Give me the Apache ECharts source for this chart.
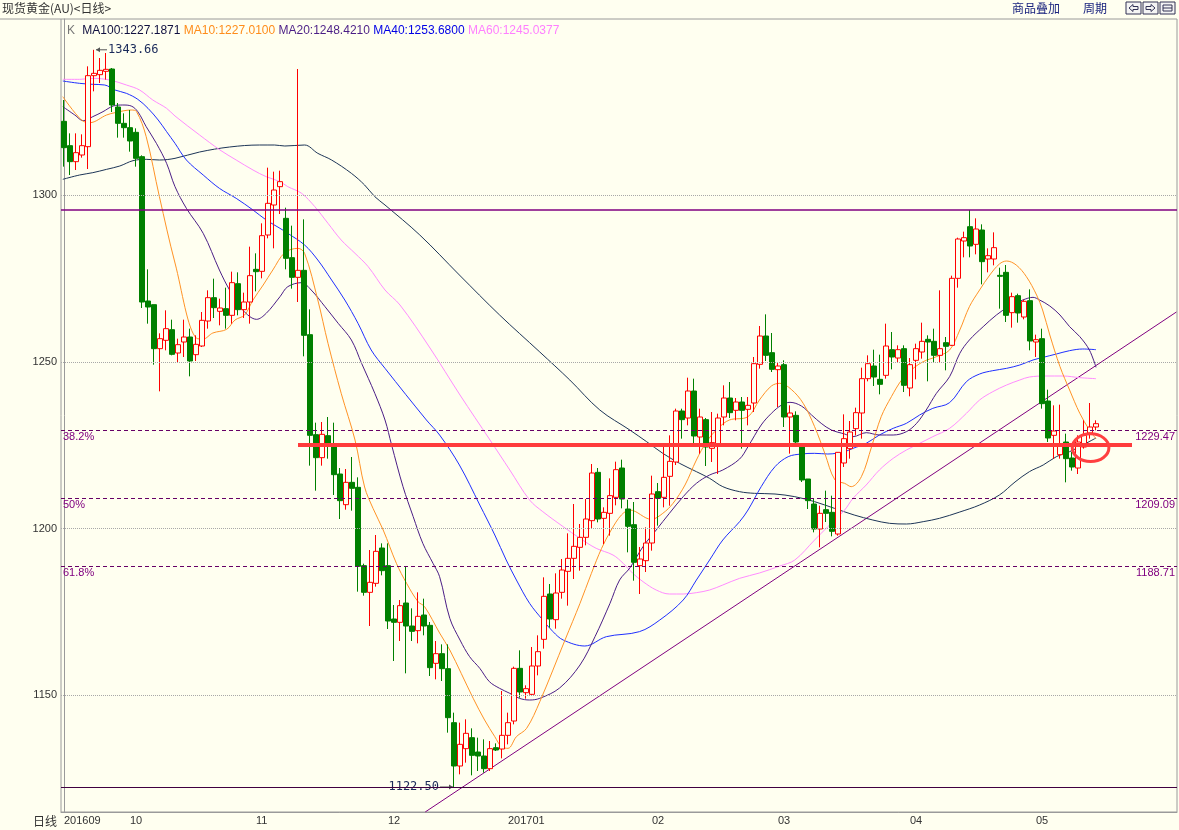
<!DOCTYPE html>
<html><head><meta charset="utf-8">
<script src="https://cdn.jsdelivr.net/npm/echarts@6/dist/echarts.min.js"></script>
<style>html,body{margin:0;padding:0;background:#FFFFF0;}#c{width:1179px;height:830px;}</style>
</head><body><div id="c"></div>
<script>
// ---- data ----
const opens  = [1322.2,1314.9,1310.1,1312.1,1314.6,1335.9,1336.2,1337.2,1337.9,1326.5,1321.6,1320.3,1318.9,1311.6,1268.3,1267.2,1254.0,1256.5,1259.7,1252.7,1256.0,1257.5,1252.2,1254.8,1262.3,1269.3,1265.2,1266.0,1264.0,1273.5,1265.7,1268.0,1277.8,1277.2,1288.1,1297.1,1302.6,1293.1,1281.3,1275.4,1277.5,1258.2,1228.2,1221.3,1227.9,1225.0,1216.4,1207.2,1213.9,1212.4,1188.9,1180.9,1183.6,1194.2,1188.9,1172.9,1171.9,1177.7,1170.8,1169.4,1174.1,1171.0,1159.6,1162.5,1158.0,1141.8,1128.8,1134.0,1137.3,1133.0,1131.8,1128.0,1134.3,1133.9,1138.0,1142.3,1158.1,1150.8,1150.3,1158.8,1166.8,1180.4,1172.7,1180.9,1187.2,1191.1,1194.4,1197.4,1202.4,1216.9,1203.1,1204.6,1209.4,1218.2,1205.9,1201.2,1188.9,1190.4,1195.7,1211.1,1209.4,1215.7,1220.0,1235.3,1233.2,1241.3,1227.5,1232.7,1224.1,1225.0,1233.5,1239.2,1235.5,1238.0,1235.8,1237.7,1249.3,1257.8,1252.8,1247.7,1249.2,1233.5,1234.0,1225.0,1214.9,1207.4,1199.9,1205.7,1204.9,1198.4,1219.7,1224.0,1230.0,1234.7,1245.0,1248.8,1244.8,1246.0,1253.7,1251.2,1254.0,1242.2,1250.5,1253.0,1256.8,1256.2,1252.0,1255.8,1255.0,1275.1,1286.3,1290.6,1285.3,1289.6,1280.9,1280.9,1276.0,1276.9,1264.8,1269.9,1263.5,1268.4,1256.0,1257.0,1238.3,1228.0,1222.2,1226.0,1221.2,1218.2,1224.5,1228.7,1230.5];
const closes = [1314.3,1310.1,1312.8,1314.9,1335.9,1336.6,1337.5,1337.8,1327.1,1321.6,1320.3,1316.3,1311.1,1268.0,1266.5,1254.0,1257.0,1260.0,1252.3,1255.2,1257.5,1250.3,1255.3,1262.5,1269.3,1266.3,1266.2,1264.0,1273.8,1265.7,1268.0,1275.9,1277.1,1287.9,1297.6,1301.6,1304.1,1281.1,1275.4,1277.5,1258.0,1228.0,1221.3,1228.3,1224.8,1216.2,1208.4,1213.9,1212.1,1188.7,1180.9,1183.9,1193.2,1187.4,1172.3,1171.9,1176.9,1170.8,1169.2,1173.7,1170.8,1158.3,1162.5,1158.0,1143.3,1128.8,1135.3,1138.6,1132.0,1131.8,1128.0,1134.0,1133.6,1138.0,1141.8,1158.1,1151.0,1152.0,1158.8,1163.1,1179.7,1172.9,1180.7,1187.6,1191.1,1194.7,1197.4,1202.9,1216.7,1202.9,1204.9,1209.9,1217.7,1208.9,1200.7,1189.9,1190.9,1195.7,1210.4,1209.1,1215.4,1220.2,1235.3,1232.7,1241.3,1227.8,1233.5,1224.5,1225.8,1233.2,1239.2,1234.8,1238.0,1235.5,1237.0,1249.5,1257.8,1252.0,1247.8,1248.8,1233.5,1234.7,1226.0,1214.6,1208.4,1199.9,1204.6,1204.6,1199.2,1222.9,1227.0,1229.0,1234.8,1245.0,1249.5,1245.5,1243.3,1254.8,1251.5,1253.7,1243.0,1249.2,1254.0,1256.2,1256.0,1252.0,1254.0,1254.7,1275.1,1286.9,1287.3,1284.8,1289.9,1280.1,1281.9,1284.3,1275.7,1264.0,1269.6,1264.7,1268.2,1256.3,1256.7,1237.5,1227.2,1229.3,1225.2,1221.0,1218.5,1226.0,1228.0,1230.5,1231.5];
const highs  = [1328.6,1318.6,1318.6,1318.3,1338.7,1343.66,1341.2,1342.7,1338.2,1327.7,1324.6,1325.6,1320.1,1312.0,1277.8,1267.2,1258.6,1265.5,1262.7,1257.0,1262.7,1260.0,1258.0,1265.0,1271.5,1275.0,1269.0,1272.3,1277.1,1276.9,1270.8,1284.6,1282.6,1291.6,1308.3,1307.1,1307.4,1296.3,1290.9,1337.9,1292.8,1265.8,1231.8,1232.0,1233.5,1231.8,1218.2,1217.9,1221.5,1215.4,1189.5,1193.6,1198.1,1195.6,1195.6,1177.1,1178.6,1188.6,1176.1,1180.9,1179.0,1172.0,1166.3,1165.3,1165.3,1144.8,1141.8,1142.8,1140.1,1137.3,1136.8,1136.3,1135.6,1151.3,1144.8,1158.6,1163.5,1153.0,1164.5,1168.0,1185.4,1183.4,1186.6,1190.9,1198.6,1207.4,1201.4,1208.9,1219.4,1218.2,1206.4,1215.1,1220.1,1220.7,1208.7,1208.0,1194.5,1200.4,1215.9,1213.7,1224.9,1228.0,1236.0,1236.0,1245.3,1245.0,1236.0,1233.2,1235.0,1234.5,1243.0,1244.0,1239.2,1239.5,1239.5,1251.5,1260.8,1264.3,1258.7,1250.0,1250.5,1237.0,1235.2,1225.5,1214.9,1208.9,1206.9,1211.4,1209.9,1223.0,1234.3,1232.3,1236.3,1248.3,1252.0,1253.7,1252.2,1261.5,1259.0,1255.0,1255.0,1251.2,1255.5,1261.8,1258.0,1260.0,1271.5,1257.5,1275.9,1287.3,1289.1,1295.6,1293.1,1291.3,1284.1,1288.9,1278.3,1279.1,1270.8,1270.5,1268.7,1271.8,1258.2,1260.0,1241.7,1237.0,1237.2,1228.5,1223.0,1228.0,1232.5,1237.7,1232.5];
const lows   = [1308.6,1306.1,1307.6,1311.3,1307.9,1331.2,1333.7,1334.7,1325.0,1317.3,1317.3,1313.1,1308.6,1266.2,1261.5,1249.2,1241.2,1253.5,1252.0,1250.0,1251.5,1245.7,1250.3,1254.5,1260.0,1263.2,1261.0,1260.0,1261.5,1264.0,1263.2,1261.5,1271.2,1275.1,1287.1,1284.1,1294.4,1277.8,1272.0,1268.0,1251.7,1218.9,1211.4,1218.9,1221.0,1210.1,1202.9,1205.7,1205.4,1181.1,1179.9,1170.8,1182.6,1186.0,1169.9,1160.3,1166.3,1156.6,1166.3,1165.6,1168.0,1155.8,1154.8,1154.3,1138.8,1122.5,1126.3,1129.8,1126.0,1127.3,1126.8,1127.3,1133.3,1131.1,1135.3,1141.3,1149.3,1149.0,1149.8,1156.0,1164.0,1170.3,1170.0,1179.0,1176.9,1184.9,1187.4,1195.0,1200.0,1201.9,1195.4,1197.9,1207.0,1206.1,1192.9,1184.4,1180.4,1187.0,1193.4,1200.9,1206.4,1206.9,1219.1,1227.0,1231.0,1224.8,1222.5,1218.8,1220.0,1216.4,1231.0,1233.2,1232.5,1224.0,1231.0,1235.0,1248.0,1250.3,1247.0,1236.5,1230.5,1222.5,1225.0,1214.0,1205.9,1198.9,1194.4,1202.0,1197.7,1197.9,1218.5,1221.0,1228.0,1227.0,1244.2,1242.8,1240.3,1245.0,1247.8,1250.0,1241.0,1239.7,1244.8,1251.0,1244.2,1250.0,1250.0,1247.5,1254.8,1272.3,1281.4,1281.4,1282.3,1273.3,1276.9,1279.0,1266.0,1262.0,1260.3,1261.8,1262.8,1253.5,1251.5,1236.0,1226.0,1221.0,1221.0,1213.9,1217.4,1216.4,1224.0,1227.0,1229.5];

// moving averages: [bar position, price]
const ma10 = [[-0.2,1329.6],[2.9,1322.6],[4.3,1321.8],[7.1,1324.1],[8.5,1324.8],[11.2,1325.6],[12.1,1325.1],[13.7,1317.6],[15.9,1299.6],[18.5,1279.7],[22.1,1257.1],[23.2,1256.9],[24.8,1258.7],[27.1,1259.8],[28.5,1262.6],[30.1,1264.1],[31.5,1268.6],[33.2,1273.1],[34.8,1277.6],[36.8,1282.8],[39.0,1284.1],[40.1,1282.6],[42.3,1268.6],[44.0,1255.6],[46.2,1240.6],[48.5,1226.6],[50.1,1212.5],[51.5,1206.1],[53.2,1199.6],[55.4,1189.6],[57.1,1183.6],[59.0,1178.1],[60.1,1176.6],[62.6,1168.7],[64.3,1163.6],[66.2,1156.6],[68.2,1149.1],[70.1,1142.6],[71.8,1137.6],[72.9,1134.6],[74.0,1134.1],[75.4,1137.6],[77.1,1140.1],[79.3,1148.1],[83.5,1166.6],[86.0,1177.6],[87.9,1186.6],[89.6,1194.1],[91.2,1199.6],[92.9,1204.1],[94.3,1205.6],[97.9,1202.8],[99.8,1204.6],[101.5,1207.6],[103.5,1213.1],[105.4,1220.6],[107.1,1226.1],[109.0,1230.1],[110.9,1232.6],[114.0,1233.6],[115.9,1238.6],[117.9,1242.8],[119.3,1243.6],[121.2,1241.8],[123.2,1237.6],[125.1,1230.6],[126.8,1222.6],[128.5,1214.6],[130.1,1213.6],[131.2,1212.6],[132.9,1215.6],[134.6,1224.6],[136.2,1233.6],[137.9,1239.6],[139.6,1244.6],[141.2,1247.6],[143.2,1250.1],[145.4,1251.6],[147.6,1253.6],[149.3,1259.6],[150.9,1266.6],[152.6,1271.6],[154.3,1276.1],[155.9,1279.4],[157.1,1280.3],[158.7,1279.1],[160.4,1275.6],[162.1,1270.1],[163.1,1265.6],[164.3,1258.1],[166.0,1248.6],[167.6,1241.6],[169.3,1234.6],[170.9,1229.6],[172.0,1227.0]];
const ma20 = [[-0.2,1326.6],[1.8,1324.1],[3.2,1322.4],[4.8,1323.6],[6.5,1325.1],[8.2,1326.8],[9.8,1327.1],[11.2,1326.8],[12.3,1325.1],[13.7,1320.6],[15.4,1315.6],[17.1,1309.6],[18.5,1302.6],[20.4,1296.1],[23.2,1288.6],[25.9,1277.6],[27.6,1271.6],[29.8,1265.6],[32.1,1262.8],[33.7,1264.6],[36.0,1269.6],[37.3,1272.6],[39.6,1273.8],[41.2,1271.6],[43.5,1266.6],[45.7,1261.6],[47.9,1256.6],[49.6,1249.6],[51.8,1240.6],[53.5,1232.6],[54.6,1225.1],[56.5,1212.6],[58.2,1203.6],[59.8,1195.6],[61.5,1189.6],[62.6,1185.6],[64.3,1173.1],[66.0,1166.6],[67.6,1161.6],[69.3,1158.1],[70.9,1154.1],[72.6,1152.1],[74.3,1150.6],[75.9,1149.1],[77.6,1148.6],[79.3,1149.1],[82.6,1152.2],[86.0,1159.1],[88.5,1167.6],[91.0,1177.6],[92.6,1184.6],[94.3,1188.2],[96.5,1194.6],[98.7,1199.6],[100.9,1204.6],[103.2,1209.6],[105.4,1213.6],[107.6,1216.1],[109.8,1217.6],[112.6,1220.9],[114.0,1224.6],[116.2,1231.1],[117.9,1234.6],[119.6,1237.1],[121.0,1237.9],[122.9,1236.8],[124.6,1234.1],[126.2,1231.6],[127.9,1229.6],[130.1,1228.4],[131.5,1227.6],[133.7,1228.8],[135.9,1228.1],[138.2,1228.1],[140.4,1229.1],[142.1,1231.6],[143.7,1235.6],[145.4,1240.6],[147.6,1245.6],[149.3,1252.6],[150.9,1256.6],[153.2,1260.6],[155.4,1264.1],[157.6,1266.8],[159.8,1268.6],[161.5,1269.4],[162.6,1268.6],[164.3,1266.8],[166.0,1264.1],[167.6,1260.6],[169.3,1257.6],[170.9,1253.6],[172.0,1248.4]];
const ma40 = [[-0.2,1334.3],[2.6,1333.6],[4.8,1333.3],[6.8,1333.1],[8.5,1331.6],[10.4,1330.6],[12.3,1328.8],[14.0,1326.1],[15.7,1322.6],[17.1,1319.1],[18.5,1315.6],[20.4,1310.6],[23.2,1306.1],[25.9,1302.1],[28.7,1299.1],[31.5,1295.6],[33.7,1292.6],[36.0,1290.1],[37.3,1288.6],[40.1,1285.1],[42.3,1280.6],[44.6,1274.6],[46.8,1268.6],[49.0,1261.6],[51.2,1253.6],[53.5,1248.1],[60.4,1232.6],[62.6,1228.1],[65.9,1219.1],[69.3,1207.1],[71.8,1198.1],[73.7,1190.6],[75.4,1184.6],[77.6,1177.6],[79.8,1172.6],[81.5,1169.1],[83.2,1166.6],[86.8,1164.8],[90.4,1167.6],[95.9,1169.1],[99.3,1172.6],[103.2,1178.6],[105.4,1184.6],[107.6,1190.6],[109.8,1196.6],[112.6,1202.1],[114.0,1205.6],[116.2,1212.6],[118.5,1218.6],[120.7,1221.6],[122.9,1222.4],[125.1,1222.6],[127.3,1222.4],[130.1,1223.1],[131.5,1224.1],[133.7,1225.6],[135.9,1228.1],[138.2,1230.1],[140.4,1231.6],[142.6,1234.1],[144.8,1236.1],[147.6,1237.8],[150.4,1244.1],[152.6,1246.4],[154.8,1247.4],[157.1,1248.1],[159.3,1249.1],[161.5,1250.6],[163.2,1251.4],[165.4,1252.4],[167.6,1253.4],[169.8,1253.9],[172.0,1253.7]];
const ma60 = [[-0.2,1334.8],[2.6,1334.8],[4.8,1335.1],[7.6,1334.6],[10.4,1333.1],[12.6,1331.6],[14.8,1328.6],[17.1,1326.1],[18.5,1323.8],[22.6,1318.1],[26.0,1313.6],[28.7,1310.6],[31.5,1307.6],[33.7,1305.6],[36.0,1304.1],[37.3,1302.6],[39.6,1300.6],[41.8,1296.6],[44.0,1291.6],[46.2,1286.6],[48.5,1282.6],[50.7,1278.6],[53.5,1271.6],[56.0,1267.1],[61.0,1254.2],[66.0,1240.1],[71.0,1226.6],[74.3,1217.6],[77.6,1208.6],[79.8,1205.1],[83.2,1200.6],[86.0,1197.1],[88.7,1194.1],[91.5,1192.1],[93.2,1189.6],[94.8,1186.6],[96.5,1184.1],[98.7,1181.6],[100.9,1180.4],[103.2,1180.4],[105.4,1180.8],[107.6,1181.6],[109.8,1183.1],[112.6,1185.1],[115.9,1186.7],[119.3,1188.8],[121.8,1190.6],[125.1,1196.6],[127.3,1200.6],[130.1,1205.6],[131.5,1209.1],[133.7,1213.1],[135.9,1217.6],[138.2,1221.1],[140.4,1223.6],[142.6,1225.6],[144.8,1227.6],[147.6,1230.1],[150.4,1234.6],[152.6,1238.6],[154.8,1241.1],[157.1,1243.1],[159.3,1244.6],[160.9,1245.5],[163.7,1245.8],[166.5,1245.8],[169.3,1245.3],[172.0,1245.0]];
const ma100 = [[-0.2,1304.8],[2.6,1306.1],[4.8,1306.8],[7.1,1307.8],[9.3,1308.8],[11.5,1310.4],[13.7,1310.8],[15.9,1310.6],[18.5,1311.1],[22.6,1313.0],[27.6,1314.5],[32.6,1315.1],[35.1,1315.1],[36.8,1314.8],[40.1,1315.1],[42.3,1312.6],[44.6,1310.6],[47.9,1306.6],[50.1,1303.1],[51.8,1299.6],[53.5,1297.1],[59.3,1288.1],[65.9,1276.1],[72.6,1264.1],[79.3,1253.0],[84.3,1244.6],[89.3,1235.6],[94.3,1229.6],[97.1,1226.1],[99.8,1222.6],[102.6,1219.6],[105.4,1217.1],[107.6,1215.1],[109.8,1212.6],[112.6,1211.1],[115.1,1210.6],[118.5,1210.4],[121.8,1209.6],[125.1,1208.1],[128.4,1206.1],[131.7,1204.1],[134.8,1202.6],[137.6,1201.6],[140.4,1201.4],[143.2,1202.1],[145.9,1203.1],[149.3,1205.0],[152.6,1207.1],[155.9,1210.1],[158.5,1214.0],[160.9,1217.1],[163.2,1219.1],[165.4,1221.6],[167.6,1223.1],[169.8,1225.1],[172.0,1227.2]];

const maNames  = ['MA100','MA10','MA20','MA40','MA60'];
const maValues = ['1227.1871','1227.0100','1248.4210','1253.6800','1245.0377'];

const monthStart = [0, 11, 32, 54, 74, 98, 119, 141, 162];
const monthText  = ['201609','10','11','12','201701','02','03','04','05'];
const yTicks = [1150, 1200, 1250, 1300];

const fibHigh = 1295.6, fibLow = 1122.5;
const fibLevels = [1229.47, 1209.09, 1188.71];
const fibPct = ['38.2%', '50%', '61.8%'];
const maxPoint = [5, 1343.66];
const minPoint = [65, 1122.50];
const redLine = [[39, 1225.1], [178, 1225.1]];
const trendLine = [[60.2, 1115.0], [185.4, 1265.0]];
const circleMark = {center: [171.1, 1224.3], halfW: 3.05, halfH: 4.15};

// ---- chart ----
const SLOTS = 186;
const cats = [];
for (let i = 0; i < SLOTS; i++) cats.push(String(i));
const kdata = opens.map((o, i) => [o, closes[i], lows[i], highs[i]]);

const BG = '#FFFFF0';
const PURPLE = '#800080';
const FONT = 'Liberation Sans, Arial, sans-serif';
const colors = {MA100: '#1d3557', MA10: '#FF9326', MA20: '#4B1E86', MA40: '#1F2FFF', MA60: '#FF8CFF'};
const textColors = {MA100: '#101040', MA10: '#FF8C1A', MA20: '#4B1E86', MA40: '#0000E6', MA60: '#FF80FF'};

const chart = echarts.init(document.getElementById('c'));

function maSeries(name, data) {
  return {type: 'line', name, xAxisIndex: 1, yAxisIndex: 0, data, showSymbol: false, symbol: 'none',
    smooth: 0.35, lineStyle: {width: 1, color: colors[name]}, silent: true, z: 3};
}

const fibLineData = [];
fibLevels.forEach((v, k) => {
  fibLineData.push({yAxis: v, label: {show: true, position: 'insideStartBottom', formatter: fibPct[k], distance: [2, 1]}});
  fibLineData.push({yAxis: v, label: {show: true, position: 'insideEndBottom', formatter: String(v), distance: [2, 1]}});
});

const rich = {k: {color: '#777', fontSize: 12, fontFamily: FONT, fontWeight: 'normal', padding: [0, 4, 0, 0]}};
let legendText = '{k|K}';
maNames.forEach((n, i) => {
  rich['m' + i] = {color: textColors[n], fontSize: 12, fontFamily: FONT, fontWeight: 'normal'};
  legendText += ' {m' + i + '|' + n + ':' + maValues[i] + '}';
});

const option = {
  backgroundColor: BG,
  animation: false,
  grid: {left: 61, right: 2, top: 19, bottom: 18, show: true, borderColor: '#9a9a9a', borderWidth: 1},
  title: {text: legendText, left: 62, top: 20, textStyle: {rich, fontSize: 12, fontWeight: 'normal'}},
  xAxis: [
    {type: 'category', data: cats, boundaryGap: true,
      axisLine: {lineStyle: {color: '#9a9a9a'}}, axisTick: {show: false}, splitLine: {show: false},
      axisLabel: {interval: (idx) => monthStart.indexOf(idx) >= 0, formatter: (v, idx) => monthText[monthStart.indexOf(idx)] || '',
        align: 'left', color: '#333', fontSize: 11, fontFamily: FONT, margin: 3, showMinLabel: true}},
    {type: 'value', min: -0.5, max: SLOTS - 0.5, show: false}
  ],
  yAxis: [{type: 'value', min: 1115.0, max: 1352.9, scale: true,
    axisLine: {show: true, lineStyle: {color: '#9a9a9a'}}, axisTick: {show: false}, splitLine: {show: false},
    axisLabel: {customValues: yTicks, formatter: (v) => String(Math.round(v)), color: '#333', fontSize: 11, fontFamily: FONT, margin: 4}}],
  series: [
    {type: 'candlestick', name: 'K', data: kdata, barWidth: 5, z: 4,
      itemStyle: {color: BG, color0: '#008000', borderColor: '#FF0000', borderColor0: '#008000', borderWidth: 1},
      markLine: {silent: true, symbol: 'none', animation: false,
        data: [
          ...yTicks.map(v => ({yAxis: v, lineStyle: {type: 'dotted', color: '#a8a8a8', width: 1}, label: {show: false}})),
          ...fibLineData.map(d => Object.assign(d, {lineStyle: {type: [4, 3], color: '#660066', width: 1}})),
          {yAxis: fibHigh, lineStyle: {type: 'solid', color: PURPLE, width: 1.5}, label: {show: false}},
          {yAxis: fibLow, lineStyle: {type: 'solid', color: '#400040', width: 1}, label: {show: false}},
          [{coord: [String(redLine[0][0]), redLine[0][1]], lineStyle: {color: '#FF3B3B', width: 4, type: 'solid'}, label: {show: false}},
           {coord: [String(redLine[1][0]), redLine[1][1]]}]
        ],
        label: {color: PURPLE, fontSize: 11, fontFamily: FONT}
      }},
    {type: 'line', name: 'trend', xAxisIndex: 1, data: trendLine, symbol: 'none', lineStyle: {color: PURPLE, width: 1}, z: 2, silent: true},
    maSeries('MA100', ma100),
    maSeries('MA60', ma60),
    maSeries('MA40', ma40),
    maSeries('MA20', ma20),
    maSeries('MA10', ma10)
  ]
};
chart.setOption(option);

// annotations placed through the chart's own scales
const pMax = chart.convertToPixel({xAxisIndex: 1, yAxisIndex: 0}, maxPoint);
const pMin = chart.convertToPixel({xAxisIndex: 1, yAxisIndex: 0}, minPoint);
const pC = chart.convertToPixel({xAxisIndex: 1, yAxisIndex: 0}, circleMark.center);
const pC2 = chart.convertToPixel({xAxisIndex: 1, yAxisIndex: 0}, [circleMark.center[0] + circleMark.halfW, circleMark.center[1] + circleMark.halfH]);
const navy = '#1a2a5a';
function iconBox(x, kind) {
  const g = [{type: 'rect', shape: {x: x, y: 2, width: 15, height: 12}, style: {fill: '#f4f4f4', stroke: '#335'}}];
  if (kind === 'L') g.push({type: 'polygon', shape: {points: [[x + 3, 8], [x + 7, 4.5], [x + 7, 6.5], [x + 12, 6.5], [x + 12, 9.5], [x + 7, 9.5], [x + 7, 11.5]]}, style: {fill: 'none', stroke: '#335'}});
  if (kind === 'R') g.push({type: 'polygon', shape: {points: [[x + 12, 8], [x + 8, 4.5], [x + 8, 6.5], [x + 3, 6.5], [x + 3, 9.5], [x + 8, 9.5], [x + 8, 11.5]]}, style: {fill: 'none', stroke: '#335'}});
  if (kind === 'B') g.push({type: 'rect', shape: {x: x + 3, y: 5, width: 9, height: 6}, style: {fill: 'none', stroke: '#335'}},
                            {type: 'line', shape: {x1: x + 3, y1: 8, x2: x + 12, y2: 8}, style: {stroke: '#335'}});
  return g;
}
chart.setOption({graphic: [
  {type: 'text', left: 2, top: 2, style: {text: '现货黄金(AU)<日线>', fill: '#333', font: '12px "Noto Sans CJK SC"'}},
  {type: 'line', shape: {x1: 0, y1: 19, x2: 61, y2: 19}, style: {stroke: '#9a9a9a'}},
  {type: 'text', left: 1012, top: 2, style: {text: '商品叠加', fill: '#1a237e', font: '12px "Noto Sans CJK SC"'}},
  {type: 'text', left: 1083, top: 2, style: {text: '周期', fill: '#1a237e', font: '12px "Noto Sans CJK SC"'}},
  ...iconBox(1126, 'L'), ...iconBox(1143, 'R'), ...iconBox(1160, 'B'),
  {type: 'text', left: 33, top: 815, style: {text: '日线', fill: '#333', font: '12px "Noto Sans CJK SC"'}},
  // max marker
  {type: 'line', shape: {x1: pMax[0] + 2, y1: pMax[1], x2: pMax[0] + 13, y2: pMax[1]}, style: {stroke: '#555', lineWidth: 1}},
  {type: 'polygon', shape: {points: [[pMax[0] + 2, pMax[1]], [pMax[0] + 6, pMax[1] - 2.5], [pMax[0] + 6, pMax[1] + 2.5]]}, style: {fill: '#555'}},
  {type: 'text', x: pMax[0] + 14, y: pMax[1], style: {text: '1343.66', fill: navy, font: '12px "DejaVu Sans Mono"', verticalAlign: 'middle'}},
  // min marker
  {type: 'line', shape: {x1: pMin[0] - 14, y1: pMin[1], x2: pMin[0] - 1, y2: pMin[1]}, style: {stroke: '#555', lineWidth: 1}},
  {type: 'polygon', shape: {points: [[pMin[0] - 1, pMin[1]], [pMin[0] - 5, pMin[1] - 2.5], [pMin[0] - 5, pMin[1] + 2.5]]}, style: {fill: '#555'}},
  {type: 'text', x: pMin[0] - 15, y: pMin[1], style: {text: '1122.50', fill: navy, font: '12px "DejaVu Sans Mono"', verticalAlign: 'middle', align: 'right'}},
  // circle mark
  {type: 'ellipse', shape: {cx: pC[0], cy: pC[1], rx: Math.abs(pC2[0] - pC[0]), ry: Math.abs(pC2[1] - pC[1])}, style: {fill: 'none', stroke: '#FF4040', lineWidth: 3}, z: 10}
]});
</script>
</body></html>
